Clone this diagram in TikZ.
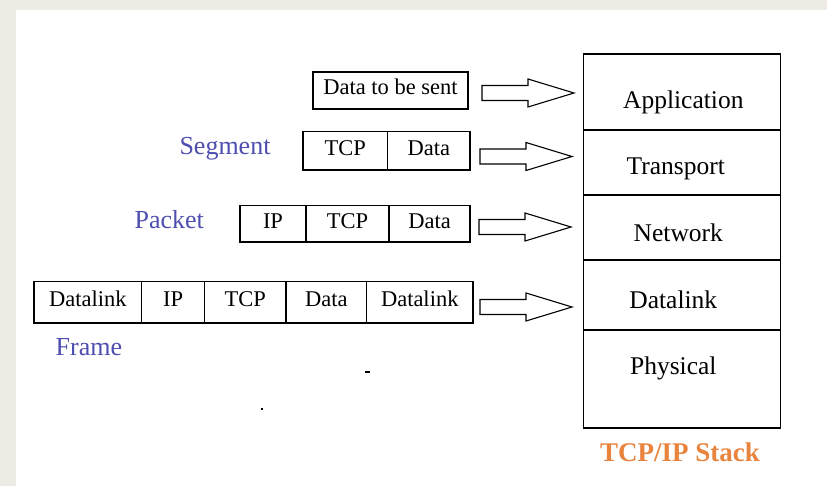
\documentclass[tikz,border=0pt]{standalone}
\usepackage{fontspec}
\setmainfont{Liberation Serif}
\definecolor{bggray}{RGB}{238,235,228}
\definecolor{lblue}{RGB}{78,78,176}
\definecolor{stackorange}{RGB}{233,132,62}
\begin{document}
\begin{tikzpicture}[x=1pt,y=-1pt,
  cell/.style={draw, line width=1.3pt, inner sep=0pt, font=\fontsize{22.5}{24}\selectfont, text height=15pt, text depth=6pt},
  layer/.style={draw, line width=1.4pt, inner sep=0pt, minimum width=197.4pt},
  layertext/.style={anchor=base, inner sep=0pt, font=\fontsize{25.5}{27}\selectfont},
  pdulabel/.style={anchor=base, inner sep=0pt, text=lblue, font=\fontsize{26}{28}\selectfont},
  blockarrow/.pic={\draw[line width=1.1pt, line join=miter] (0,-7.5) -- (46,-7.5) -- (46,-14) -- (92,0) -- (46,14) -- (46,7.5) -- (0,7.5) -- cycle;}
]
\useasboundingbox (0,0) rectangle (827,486);
\fill[bggray] (0,0) rectangle (827,486);
\fill[white] (16,10) rectangle (827,486);

% Application data
\node[cell, minimum width=155pt, minimum height=37pt] (dsent) at (390.5,90.5) {Data to be sent};

% Segment
\node[cell, minimum width=84.7pt, minimum height=38.3pt] (segtcp) at (345.35,150.85) {TCP};
\node[cell, minimum width=82.3pt, minimum height=38.3pt] (segdata) at (428.85,150.85) {Data};

% Packet
\node[cell, minimum width=66pt, minimum height=36.5pt] (pktip) at (273,223.75) {IP};
\node[cell, minimum width=83pt, minimum height=36.5pt] (pkttcp) at (347.5,223.75) {TCP};
\node[cell, minimum width=81pt, minimum height=36.5pt] (pktdata) at (429.5,223.75) {Data};

% Frame
\node[cell, minimum width=107.7pt, minimum height=41.5pt] (frdl1) at (87.85,302.25) {Datalink};
\node[cell, minimum width=62.8pt, minimum height=41.5pt] (frip) at (173.1,302.25) {IP};
\node[cell, minimum width=81.5pt, minimum height=41.5pt] (frtcp) at (245.25,302.25) {TCP};
\node[cell, minimum width=80.5pt, minimum height=41.5pt] (frdata) at (326.25,302.25) {Data};
\node[cell, minimum width=106.5pt, minimum height=41.5pt] (frdl2) at (419.75,302.25) {Datalink};

% PDU labels
\node[pdulabel] (lseg) at (225,155) {Segment};
\node[pdulabel] (lpkt) at (169.3,228.3) {Packet};
\node[pdulabel] (lfrm) at (88.9,355) {Frame};

% Stack layers
\node[layer, minimum height=76pt] (lapp) at (682,92) {};
\node[layer, minimum height=65pt] (ltrn) at (682,162.5) {};
\node[layer, minimum height=65pt] (lnet) at (682,227.5) {};
\node[layer, minimum height=70pt] (ldl) at (682,295) {};
\node[layer, minimum height=98pt] (lphy) at (682,379) {};

\node[layertext] (tapp) at (683.3,108.3) {Application};
\node[layertext] (ttrn) at (675.8,174.3) {Transport};
\node[layertext] (tnet) at (678.3,241.7) {Network};
\node[layertext] (tdl) at (673.3,308.3) {Datalink};
\node[layertext] (tphy) at (673.3,374) {Physical};
\node[anchor=base, inner sep=0pt, text=stackorange, font=\bfseries\fontsize{27}{29}\selectfont] (tstack) at (680,461.7) {TCP/IP Stack};

% Block arrows
\pic at (482,93) {blockarrow};
\pic at (480,156.5) {blockarrow};
\pic at (479,227) {blockarrow};
\pic at (480,307) {blockarrow};

% stray marks
\fill (365,371) rectangle (369.5,373);
\fill (261,408) rectangle (263,410);
\end{tikzpicture}
\end{document}
